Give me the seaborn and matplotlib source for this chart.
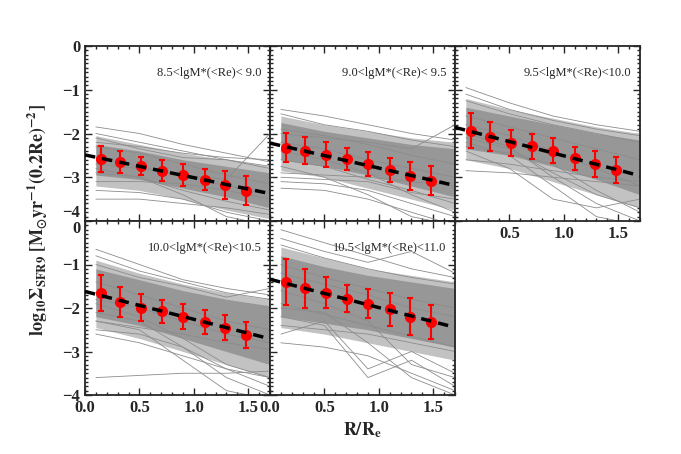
import numpy as np
import pandas as pd
import matplotlib
matplotlib.use('Agg')
import matplotlib.pyplot as plt
from matplotlib.ticker import MultipleLocator
import seaborn as sns

sns.set_style('ticks')
plt.rcParams['font.family'] = ['Liberation Serif', 'DejaVu Serif']
plt.rcParams['mathtext.fontset'] = 'stix'

# mass bins
bin_labels = ['8.5<lgM*(<Re)< 9.0', '9.0<lgM*(<Re)< 9.5', '9.5<lgM*(<Re)<10.0',
              '10.0<lgM*(<Re)<10.5', '10.5<lgM*(<Re)<11.0']

# median points (red) with error bars
r_pts = [0.15, 0.32, 0.51, 0.71, 0.90, 1.10, 1.29, 1.48]
med_1 = [-2.58, -2.66, -2.74, -2.85, -2.95, -3.06, -3.18, -3.31]
err_1 = [0.29, 0.25, 0.21, 0.24, 0.26, 0.24, 0.32, 0.33]
med_2 = [-2.32, -2.39, -2.48, -2.58, -2.70, -2.84, -2.98, -3.08]
err_2 = [0.34, 0.30, 0.28, 0.26, 0.27, 0.27, 0.32, 0.33]
med_3 = [-1.94, -2.07, -2.21, -2.29, -2.39, -2.57, -2.70, -2.83]
err_3 = [0.40, 0.33, 0.30, 0.29, 0.28, 0.27, 0.29, 0.30]
med_4 = [-1.66, -1.86, -1.99, -2.08, -2.20, -2.32, -2.45, -2.62]
err_4 = [0.42, 0.34, 0.31, 0.27, 0.29, 0.27, 0.28, 0.29]
med_5 = [-1.41, -1.55, -1.65, -1.79, -1.90, -2.03, -2.20, -2.33]
err_5 = [0.53, 0.44, 0.36, 0.31, 0.34, 0.38, 0.42, 0.39]

# linear fits (dashed): intercept, slope
fit_a = [-2.49, -2.22, -1.86, -1.62, -1.34]
fit_b = [-0.52, -0.57, -0.65, -0.64, -0.65]

# individual galaxy profiles (grey), sampled at r_prof
r_prof = [0.1, 0.5, 0.9, 1.3, 1.7]
# dense part of the bundle of profiles
core_hi = [[-2.25, -2.40, -2.60, -2.75, -2.90],
           [-1.75, -1.95, -2.10, -2.25, -2.35],
           [-1.40, -1.60, -1.80, -2.00, -2.15],
           [-1.10, -1.35, -1.60, -1.80, -1.95],
           [-0.80, -1.05, -1.25, -1.40, -1.55]]
core_lo = [[-2.95, -3.05, -3.25, -3.45, -3.70],
           [-2.60, -2.75, -2.95, -3.20, -3.45],
           [-2.35, -2.50, -2.75, -3.05, -3.40],
           [-2.20, -2.40, -2.70, -3.00, -3.30],
           [-2.20, -2.35, -2.50, -2.70, -2.90]]
# thinner fringe of the bundle
halo_hi = [[-2.05, -2.25, -2.45, -2.60, -2.75],
           [-1.60, -1.80, -1.95, -2.10, -2.20],
           [-1.20, -1.45, -1.65, -1.85, -2.00],
           [-0.90, -1.20, -1.45, -1.65, -1.80],
           [-0.60, -0.85, -1.10, -1.25, -1.40]]
halo_lo = [[-3.20, -3.30, -3.50, -3.75, -3.95],
           [-2.85, -3.00, -3.25, -3.50, -3.75],
           [-2.60, -2.80, -3.10, -3.40, -3.70],
           [-2.45, -2.70, -3.00, -3.30, -3.60],
           [-2.45, -2.60, -2.80, -3.00, -3.20]]
prof_1 = [[-1.85, -2.00, -2.25, -2.45, -2.65], [-2.00, -2.20, -2.40, -2.60, -2.75],
          [-2.10, -2.35, -2.55, -2.60, -2.80], [-2.55, -2.75, -2.95, -3.05, -2.00],
          [-2.70, -2.80, -2.95, -3.20, -3.35], [-3.10, -3.10, -3.15, -3.30, -3.50],
          [-3.30, -3.35, -3.50, -3.80, -4.00], [-3.50, -3.50, -3.60, -3.70, -3.85],
          [-2.80, -3.00, -3.40, -3.90, -4.10], [-2.30, -2.45, -2.70, -2.95, -3.15],
          [-2.90, -3.00, -3.30, -3.55, -3.75], [-2.20, -2.30, -2.45, -2.55, -2.60]]
prof_2 = [[-1.45, -1.60, -1.80, -2.00, -2.15], [-1.55, -1.80, -1.95, -2.15, -2.30],
          [-2.00, -2.10, -2.20, -2.35, -1.80], [-2.90, -2.95, -3.00, -3.10, -3.20],
          [-3.10, -3.15, -3.30, -3.60, -3.90], [-3.25, -3.30, -3.50, -3.80, -4.10],
          [-2.40, -2.60, -2.90, -3.40, -3.80], [-2.20, -2.35, -2.60, -2.80, -3.00],
          [-2.60, -2.75, -3.05, -3.30, -3.60], [-1.90, -2.05, -2.25, -2.50, -2.70],
          [-2.75, -3.00, -3.40, -3.90, -4.10], [-3.00, -3.05, -3.10, -3.35, -3.50]]
prof_3 = [[-0.95, -1.30, -1.60, -1.80, -1.95], [-1.10, -1.45, -1.70, -1.90, -2.05],
          [-1.25, -1.55, -1.80, -2.00, -2.20], [-2.60, -2.70, -2.85, -3.00, -3.10],
          [-2.85, -2.90, -3.00, -3.10, -3.20], [-2.00, -2.30, -3.00, -3.60, -4.00],
          [-2.20, -2.50, -3.20, -3.90, -4.10], [-2.40, -2.80, -3.50, -3.70, -3.50],
          [-1.80, -2.05, -2.40, -2.80, -3.20], [-2.30, -2.45, -2.70, -3.30, -3.80],
          [-1.60, -1.85, -2.10, -2.35, -2.60], [-2.10, -2.35, -2.90, -3.40, -3.70]]
prof_4 = [[-0.65, -1.00, -1.35, -1.55, -1.70], [-0.80, -1.15, -1.40, -1.65, -1.80],
          [-1.00, -1.30, -1.50, -1.75, -1.55], [-2.30, -2.45, -2.60, -2.80, -2.95],
          [-2.50, -2.60, -2.90, -3.40, -3.80], [-2.30, -2.50, -3.20, -3.90, -4.10],
          [-3.60, -3.55, -3.50, -3.50, -3.45], [-1.90, -2.20, -2.70, -3.30, -3.60],
          [-2.10, -2.30, -2.90, -3.60, -4.00], [-1.40, -1.70, -2.00, -2.30, -2.50],
          [-1.80, -2.00, -2.30, -2.60, -2.80], [-2.60, -2.80, -3.10, -3.40, -3.60]]
prof_5 = [[-0.20, -0.50, -0.80, -1.10, -1.30], [-0.40, -0.70, -0.95, -0.70, -1.20],
          [-0.55, -0.85, -1.10, -1.30, -1.45], [-2.40, -2.50, -2.60, -2.80, -3.00],
          [-2.60, -2.30, -3.40, -3.00, -3.50], [-2.20, -2.40, -3.60, -3.20, -3.80],
          [-1.60, -1.90, -2.30, -3.30, -3.60], [-2.00, -2.10, -2.80, -3.60, -4.00],
          [-1.20, -1.45, -1.70, -2.00, -2.20], [-1.90, -2.15, -2.40, -2.65, -2.90],
          [-2.80, -2.90, -3.10, -3.50, -3.90], [-1.00, -1.30, -1.55, -1.80, -2.00]]

meds = [med_1, med_2, med_3, med_4, med_5]
errs = [err_1, err_2, err_3, err_4, err_5]
profs = [prof_1, prof_2, prof_3, prof_4, prof_5]

W, H = 681, 454
fig = plt.figure(figsize=(W / 100, H / 100), dpi=100)

col_left = [85, 270, 455]
row_span = [(46, 221), (221, 395)]
pw = 185
grid = [(0, 0), (0, 1), (0, 2), (1, 0), (1, 1)]

grey = '#8c8c8c'
for k, (row, col) in enumerate(grid):
    top, bot = row_span[row]
    ax = fig.add_axes([col_left[col] / W, 1 - bot / H, pw / W, (bot - top) / H])

    ax.fill_between(r_prof, halo_lo[k], halo_hi[k], color='#c2c2c2', lw=0, zorder=1)
    ax.fill_between(r_prof, core_lo[k], core_hi[k], color='#979797', lw=0, zorder=1)
    rows = []
    for i, p in enumerate(profs[k]):
        for r, v in zip(r_prof, p):
            rows.append({'line': i, 'r': r, 'v': v})
    df = pd.DataFrame(rows)
    sns.lineplot(data=df, x='r', y='v', units='line', estimator=None, sort=False,
                 color=grey, lw=0.6, ax=ax, legend=False, zorder=2)

    ax.errorbar(r_pts, meds[k], yerr=errs[k], fmt='o', color='red', ms=7,
                ecolor='red', elinewidth=1.5, capsize=2.5, capthick=1.5, zorder=3)
    xx = np.array([0.0, 1.7])
    ax.plot(xx, fit_a[k] + fit_b[k] * xx, color='black', lw=2.5,
            dashes=(3, 2), zorder=4)

    ax.set_xlim(0, 1.7)
    ax.set_ylim(-4, 0)
    ax.xaxis.set_major_locator(MultipleLocator(0.5))
    ax.xaxis.set_minor_locator(MultipleLocator(0.1))
    ax.yaxis.set_major_locator(MultipleLocator(1))
    ax.yaxis.set_minor_locator(MultipleLocator(0.1))
    ax.tick_params(which='both', direction='in', top=True, right=True,
                   width=1.0, labelsize=12)
    ax.tick_params(which='major', length=5)
    ax.tick_params(which='minor', length=2.5)
    for s in ax.spines.values():
        s.set_linewidth(1.3)
    ax.set_xlabel('')
    ax.set_ylabel('')

    ax.text(0.955, 0.845, bin_labels[k], transform=ax.transAxes,
            ha='right', va='center', fontsize=9)

    if col == 0:
        ax.set_yticks([0, -1, -2, -3, -4])
        ax.set_yticklabels(['0', '\u22121', '\u22122', '\u22123', '\u22124'],
                           fontweight='bold')
        if row == 0:
            ax.get_yticklabels()[-1].set_va('bottom')
        else:
            ax.get_yticklabels()[0].set_va('top')
    else:
        ax.set_yticklabels([])

    if row == 1:
        ax.set_xticks([0, 0.5, 1.0, 1.5])
        ax.set_xticklabels(['0.0', '0.5', '1.0', '1.5'], fontweight='bold')
    elif col == 2:
        ax.set_xticks([0, 0.5, 1.0, 1.5])
        ax.set_xticklabels(['', '0.5', '1.0', '1.5'], fontweight='bold')
    else:
        ax.set_xticklabels([])

    if k == 4:
        ax.set_xlabel(r'$\mathbf{R/R_e}$', fontsize=13, labelpad=3)

fig.text(38 / W, 1 - 220 / H,
         r'$\mathbf{log_{10}\Sigma_{SFR9}\ [M_{\odot}yr^{-1}(0.2Re)^{-2}]}$',
         rotation=90, ha='center', va='center', fontsize=13)

fig.savefig('out.png', dpi=100)
